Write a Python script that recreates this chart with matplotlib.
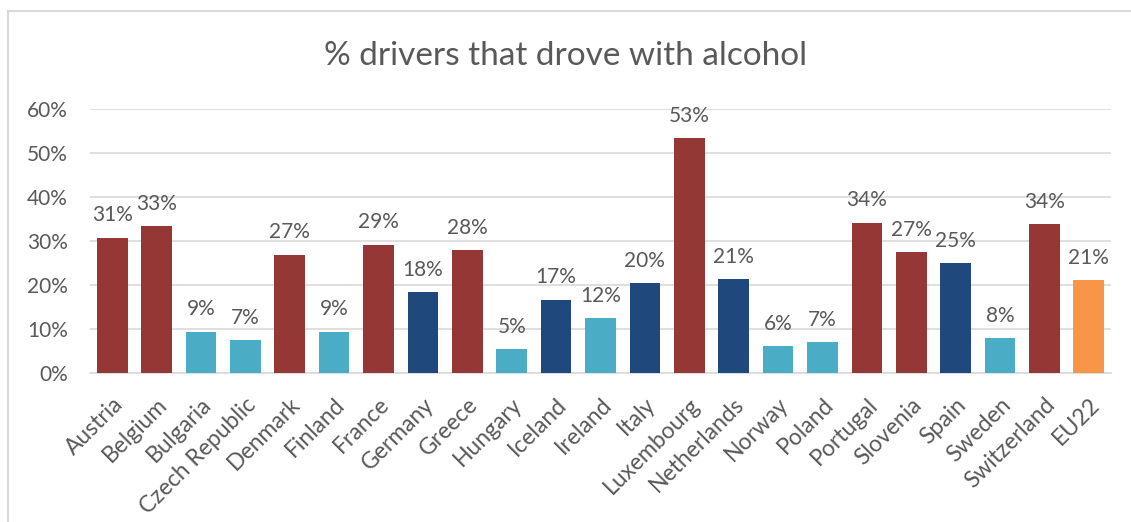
import matplotlib
matplotlib.use("Agg")
import matplotlib.pyplot as plt
from matplotlib.lines import Line2D

plt.rcParams['font.family'] = ['Lato', 'DejaVu Sans']

countries = ["Austria", "Belgium", "Bulgaria", "Czech Republic", "Denmark", "Finland",
             "France", "Germany", "Greece", "Hungary", "Iceland", "Ireland", "Italy",
             "Luxembourg", "Netherlands", "Norway", "Poland", "Portugal", "Slovenia",
             "Spain", "Sweden", "Switzerland", "EU22"]
values = [30.7, 33.3, 9.4, 7.4, 26.9, 9.4, 29.1, 18.4, 27.9, 5.4, 16.7, 12.4, 20.4,
          53.4, 21.3, 6.1, 7.0, 34.1, 27.4, 24.9, 7.9, 33.8, 21.1]
# group: h = high (red), m = medium (dark blue), l = low (light blue), eu = average
groups = ["h", "h", "l", "l", "h", "l", "h", "m", "h", "l", "m", "l", "m",
          "h", "m", "l", "l", "h", "h", "m", "l", "h", "eu"]

group_colors = {"h": "#953735", "m": "#1F497D", "l": "#4BACC6", "eu": "#F79646"}
text_col = "#595959"

fig = plt.figure(figsize=(11.31, 5.22), dpi=100)
ax = fig.add_axes([90 / 1131, 1 - 373 / 522, (1111 - 90) / 1131, (373 - 109) / 522])

x = range(len(countries))
bars = ax.bar(x, values, width=0.69, color=[group_colors[g] for g in groups], zorder=3)

for b, v in zip(bars, values):
    ax.annotate(f"{round(v)}%", (b.get_x() + b.get_width() / 2, b.get_height()),
                xytext=(0, 9), textcoords="offset points", ha="center", va="bottom",
                fontsize=15, color=text_col)

ax.set_xlim(-0.5, len(countries) - 0.5)
ax.set_ylim(0, 60)
ax.set_yticks(range(0, 61, 10))
ax.set_yticklabels([f"{t}%" for t in range(0, 61, 10)])
ax.yaxis.grid(True, color="#D9D9D9", linewidth=1.2, zorder=0)
ax.set_axisbelow(True)
for s in ["top", "right", "left"]:
    ax.spines[s].set_visible(False)
ax.spines["bottom"].set_color("#D9D9D9")
ax.spines["bottom"].set_linewidth(1.2)
ax.tick_params(axis="both", length=0, labelsize=15, labelcolor=text_col)
ax.tick_params(axis="y", pad=16)
ax.set_xticks(list(x))
ax.set_xticklabels(countries, rotation=45, ha="right", rotation_mode="anchor", fontsize=16.5)
ax.tick_params(axis="x", pad=15)

fig.text(566 / 1131, 1 - 56 / 522, "% drivers that drove with alcohol", ha="center",
         va="center", fontsize=24, color=text_col)

# chart frame (top and left edges visible)
fig.add_artist(Line2D([8 / 1131, 8 / 1131], [0, 1 - 11 / 522], transform=fig.transFigure,
                      color="#D9D9D9", linewidth=1.5))
fig.add_artist(Line2D([8 / 1131, 1], [1 - 11 / 522, 1 - 11 / 522], transform=fig.transFigure,
                      color="#D9D9D9", linewidth=1.5))

fig.savefig("out.png", dpi=100)
